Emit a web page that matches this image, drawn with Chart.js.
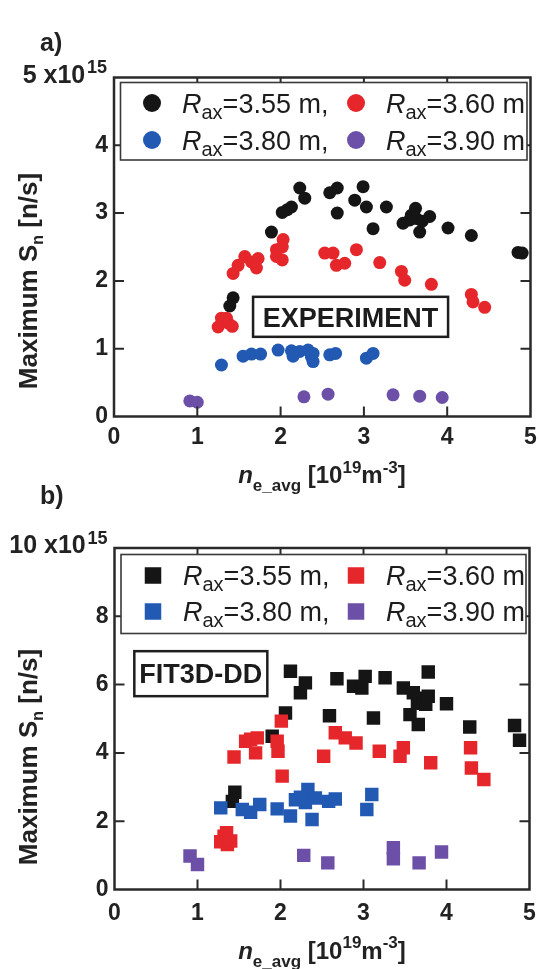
<!DOCTYPE html>
<html>
<head>
<meta charset="utf-8">
<script src="https://cdn.jsdelivr.net/npm/chart.js@4.4.0/dist/chart.umd.min.js"></script>
<style>
  body { margin: 0; background: #fff; }
  canvas { position: absolute; left: 0; }
</style>
</head>
<body>
<canvas id="figA" width="539" height="500" style="top:0"></canvas>
<canvas id="figB" width="539" height="485" style="top:484px"></canvas>
<script>
// axis positions (Rax) shared by both panels
const raxValues = ['3.55', '3.60', '3.80', '3.90'];
const raxSuffix = [' m,', ' m', ' m,', ' m'];
const xTickValues = [0, 1, 2, 3, 4, 5];

// a) measured maximum neutron rate, units of 1e15 n/s, vs n_e_avg in 1e19 m^-3
const expR355 = [[1.39,1.63],[1.43,1.75],[1.89,2.72],[2.02,3.01],[2.08,3.05],[2.13,3.09],[2.23,3.37],[2.29,3.22],[2.59,3.30],[2.68,3.37],[2.68,3.00],[2.89,3.19],[2.99,3.39],[3.03,3.09],[3.11,2.77],[3.27,3.09],[3.47,2.85],[3.55,2.90],[3.57,2.97],[3.62,3.07],[3.63,2.92],[3.67,2.72],[3.70,2.88],[3.79,2.95],[4.01,2.78],[4.29,2.67],[4.85,2.42],[4.90,2.41]];
const expR360 = [[1.25,1.32],[1.29,1.45],[1.35,1.45],[1.37,1.38],[1.42,1.33],[1.43,2.11],[1.49,2.23],[1.57,2.36],[1.65,2.28],[1.71,2.19],[1.73,2.33],[1.95,2.46],[1.95,2.36],[2.02,2.50],[2.03,2.61],[2.02,2.31],[2.53,2.41],[2.63,2.41],[2.67,2.23],[2.77,2.26],[2.91,2.46],[3.19,2.27],[3.45,2.14],[3.49,2.01],[3.81,1.95],[4.29,1.80],[4.31,1.69],[4.45,1.61]];
const expR380 = [[1.29,0.76],[1.55,0.89],[1.65,0.92],[1.76,0.92],[1.97,0.98],[2.13,0.97],[2.15,0.89],[2.23,0.96],[2.33,0.98],[2.37,0.88],[2.39,0.93],[2.39,0.81],[2.59,0.91],[2.66,0.93],[3.03,0.86],[3.11,0.93]];
const expR390 = [[0.91,0.23],[1.00,0.21],[2.28,0.29],[2.57,0.33],[3.35,0.32],[3.67,0.30],[3.94,0.28]];
const expYTicks = [0, 1, 2, 3, 4, 5];

// b) FIT3D-DD calculation
const fitR355 = [[1.42,2.58],[1.45,2.85],[1.90,4.49],[2.06,5.17],[2.12,6.39],[2.24,5.76],[2.30,6.05],[2.59,5.09],[2.68,6.17],[2.88,5.95],[2.98,5.90],[3.02,6.24],[3.12,5.02],[3.26,6.20],[3.48,5.90],[3.56,5.12],[3.60,5.76],[3.65,5.45],[3.66,4.83],[3.68,5.60],[3.72,5.50],[3.75,5.42],[3.78,5.66],[3.78,6.37],[4.00,5.44],[4.28,4.76],[4.82,4.80],[4.88,4.37]];
const fitR360 = [[1.28,1.40],[1.32,1.56],[1.35,1.66],[1.36,1.32],[1.40,1.42],[1.44,3.88],[1.58,4.34],[1.64,4.40],[1.70,4.00],[1.72,4.44],[1.96,4.34],[1.97,4.05],[2.01,4.93],[2.02,3.32],[2.52,3.90],[2.66,4.59],[2.78,4.44],[2.91,4.29],[3.19,4.05],[3.44,3.90],[3.48,4.15],[3.81,3.71],[4.29,4.15],[4.30,3.56],[4.45,3.22]];
const fitR380 = [[1.28,2.39],[1.54,2.34],[1.64,2.26],[1.75,2.49],[1.96,2.36],[2.12,2.15],[2.18,2.63],[2.24,2.70],[2.30,2.55],[2.33,2.93],[2.38,2.05],[2.42,2.68],[2.58,2.58],[2.66,2.65],[3.04,2.34],[3.10,2.78]];
const fitR390 = [[0.91,0.98],[1.00,0.73],[2.28,1.00],[2.57,0.78],[3.36,1.22],[3.36,0.90],[3.67,0.78],[3.94,1.10]];
const fitYTicks = [0, 2, 4, 6, 8, 10];

const colors = ['#151515', '#e5262b', '#2159b3', '#6c4fa7'];
const FONT = "'Liberation Sans', Arial, Helvetica, sans-serif";

const toXY = arr => arr.map(p => ({ x: p[0], y: p[1] }));

function makeSets(groups, style, radius) {
  return groups.map((g, i) => ({
    label: raxValues[i],
    data: toXY(g),
    pointStyle: style,
    pointRadius: radius,
    pointHoverRadius: radius,
    backgroundColor: colors[i],
    borderWidth: 0,
    showLine: false,
    order: 4 - i
  }));
}

// draw a list of text runs one after another (for sub/superscripts)
function drawRuns(ctx, runs, x, y, align) {
  let w = 0;
  runs.forEach(r => { ctx.font = r.font; w += ctx.measureText(r.t).width; });
  let cx = align === 'center' ? x - w / 2 : x;
  runs.forEach(r => {
    ctx.font = r.font;
    ctx.fillText(r.t, cx, y + (r.dy || 0));
    cx += ctx.measureText(r.t).width;
  });
}

const paperFrame = {
  id: 'paperFrame',
  afterDraw(chart, args, o) {
    const { ctx, chartArea: a } = chart;
    const xs = chart.scales.x, ys = chart.scales.y;
    ctx.save();
    ctx.textAlign = 'left';
    ctx.textBaseline = 'alphabetic';

    // inward tick marks on all four sides
    ctx.strokeStyle = '#2a2a2a';
    ctx.lineWidth = 2;
    ctx.beginPath();
    xs.ticks.forEach(t => {
      const px = xs.getPixelForValue(t.value);
      if (px <= a.left + 1 || px >= a.right - 1) return;
      ctx.moveTo(px, a.bottom); ctx.lineTo(px, a.bottom - 10);
      ctx.moveTo(px, a.top); ctx.lineTo(px, a.top + 10);
    });
    ys.ticks.forEach(t => {
      const py = ys.getPixelForValue(t.value);
      if (py <= a.top + 1 || py >= a.bottom - 1) return;
      ctx.moveTo(a.left, py); ctx.lineTo(a.left + 10, py);
      ctx.moveTo(a.right, py); ctx.lineTo(a.right - 10, py);
    });
    ctx.stroke();

    // plot frame
    ctx.lineWidth = 2.5;
    ctx.strokeRect(a.left, a.top, a.right - a.left, a.bottom - a.top);

    // legend box inside the frame
    const L = o.legend;
    const bx = a.left + L.box[0], by = a.top + L.box[1];
    const bw = a.right + L.box[2] - bx, bh = L.box[3] - L.box[1];
    ctx.fillStyle = '#fff';
    ctx.fillRect(bx, by, bw, bh);
    ctx.strokeStyle = '#3a3a3a';
    ctx.lineWidth = 1.6;
    ctx.strokeRect(bx, by, bw, bh);
    chart.data.datasets.forEach((ds, i) => {
      const mx = a.left + L.cols[i % 2];
      const my = a.top + L.rows[Math.floor(i / 2)];
      ctx.fillStyle = ds.backgroundColor;
      if (ds.pointStyle === 'rect') {
        ctx.fillRect(mx - L.size / 2, my - L.size / 2, L.size, L.size);
      } else {
        ctx.beginPath();
        ctx.arc(mx, my, L.size / 2, 0, Math.PI * 2);
        ctx.fill();
      }
      ctx.fillStyle = '#1c1c1c';
      drawRuns(ctx, [
        { t: 'R', font: `italic 27px ${FONT}` },
        { t: 'ax', font: `20px ${FONT}`, dy: 6 },
        { t: '=' + ds.label + raxSuffix[i], font: `27px ${FONT}` }
      ], mx + 30, my + 9.7, 'left');
    });

    // boxed tag (EXPERIMENT / FIT3D-DD), placed in data coordinates
    const T = o.tag;
    const tx = xs.getPixelForValue(T.x), ty = ys.getPixelForValue(T.y);
    ctx.fillStyle = '#fff';
    ctx.fillRect(tx - T.w / 2, ty - T.h / 2, T.w, T.h);
    ctx.strokeStyle = '#1e1e1e';
    ctx.lineWidth = 2.5;
    ctx.strokeRect(tx - T.w / 2, ty - T.h / 2, T.w, T.h);
    ctx.fillStyle = '#1c1c1c';
    ctx.font = `bold 27px ${FONT}`;
    ctx.textAlign = 'center';
    ctx.fillText(T.text, tx, ty + 9.7);
    ctx.textAlign = 'left';

    // panel letter
    ctx.fillStyle = '#222';
    ctx.font = `bold 25px ${FONT}`;
    ctx.fillText(o.letter, o.letterPos[0], o.letterPos[1]);

    // multiplier at the top of the y axis
    drawRuns(ctx, [
      { t: o.power, font: `bold 25px ${FONT}` },
      { t: ' ', font: `bold 6px ${FONT}` },
      { t: '15', font: `bold 18px ${FONT}`, dy: -o.powerRaise }
    ], o.powerPos[0], o.powerPos[1], 'left');

    // x axis title
    drawRuns(ctx, [
      { t: 'n', font: `italic bold 24px ${FONT}` },
      { t: 'e_avg', font: `bold 17px ${FONT}`, dy: 8 },
      { t: ' [10', font: `bold 24px ${FONT}` },
      { t: '19', font: `bold 17px ${FONT}`, dy: -o.supRaise },
      { t: 'm', font: `bold 24px ${FONT}` },
      { t: '-3', font: `bold 17px ${FONT}`, dy: -o.supRaise },
      { t: ']', font: `bold 24px ${FONT}` }
    ], o.xTitle[0], o.xTitle[1], 'center');

    // y axis title, rotated
    ctx.translate(o.yTitle[0], o.yTitle[1]);
    ctx.rotate(-Math.PI / 2);
    drawRuns(ctx, [
      { t: 'Maximum S', font: `bold 26px ${FONT}` },
      { t: 'n', font: `bold 16px ${FONT}`, dy: 6 },
      { t: ' [n/s]', font: `bold 26px ${FONT}` }
    ], 0, 0, 'center');

    ctx.restore();
  }
};

function axisOptions(max, step, values, pad, hideTop) {
  return {
    type: 'linear',
    min: 0,
    max: max,
    afterBuildTicks: s => { s.ticks = values.map(v => ({ value: v })); },
    grid: { display: false, drawTicks: false },
    border: { display: false },
    ticks: {
      stepSize: step,
      padding: pad,
      color: '#222',
      autoSkip: false,
      maxRotation: 0,
      font: { family: FONT, size: 23, weight: 'bold' },
      callback: v => (hideTop && v === max ? '' : String(v))
    }
  };
}

// box = [left, top, right, bottom] of the plot area in canvas pixels
function makeChart(id, sets, yMax, yStep, yTicks, box, xPad, frameOpts) {
  const canvas = document.getElementById(id);
  const xOpt = axisOptions(5, 1, xTickValues, xPad, false);
  xOpt.afterFit = s => {
    s.height = canvas.height - box[3];
    s.paddingLeft = 0; s.paddingRight = 0;
  };
  const yOpt = axisOptions(yMax, yStep, yTicks, 6, true);
  yOpt.afterFit = s => {
    s.width = box[0];
    s.paddingTop = 0; s.paddingBottom = 0;
  };
  return new Chart(canvas, {
    type: 'scatter',
    data: { datasets: sets },
    options: {
      responsive: false,
      animation: false,
      events: [],
      layout: { padding: { left: 0, bottom: 0, top: box[1], right: canvas.width - box[2] } },
      plugins: {
        legend: { display: false },
        tooltip: { enabled: false },
        paperFrame: frameOpts
      },
      scales: { x: xOpt, y: yOpt }
    },
    plugins: [paperFrame]
  });
}

makeChart('figA',
  makeSets([expR355, expR360, expR380, expR390], 'circle', 6.5),
  5, 1, expYTicks,
  [114, 77.5, 530.5, 416.5], 7,
  {
    letter: 'a)', letterPos: [40, 51],
    power: '5 x10', powerPos: [22.7, 83.3], powerRaise: 10,
    xTitle: [322, 483], supRaise: 10,
    yTitle: [37, 281],
    legend: { box: [6.5, 5, -3.5, 82.5], rows: [25.5, 62.5], cols: [38, 242], size: 18 },
    tag: { text: 'EXPERIMENT', x: 2.84, y: 1.47, w: 195, h: 40 }
  });

makeChart('figB',
  makeSets([fitR355, fitR360, fitR380, fitR390], 'rect', 9.5),
  10, 2, fitYTicks,
  [114.5, 64, 531.5, 405.5], 10,
  {
    letter: 'b)', letterPos: [40, 20],
    power: '10 x10', powerPos: [9.3, 69.3], powerRaise: 9,
    xTitle: [322, 475], supRaise: 11,
    yTitle: [37, 273],
    legend: { box: [6.5, 6.5, -3.5, 85.5], rows: [27.5, 63.5], cols: [38.5, 241.5], size: 16.5 },
    tag: { text: 'FIT3D-DD', x: 1.04, y: 6.32, w: 133, h: 45 }
  });
</script>
</body>
</html>
